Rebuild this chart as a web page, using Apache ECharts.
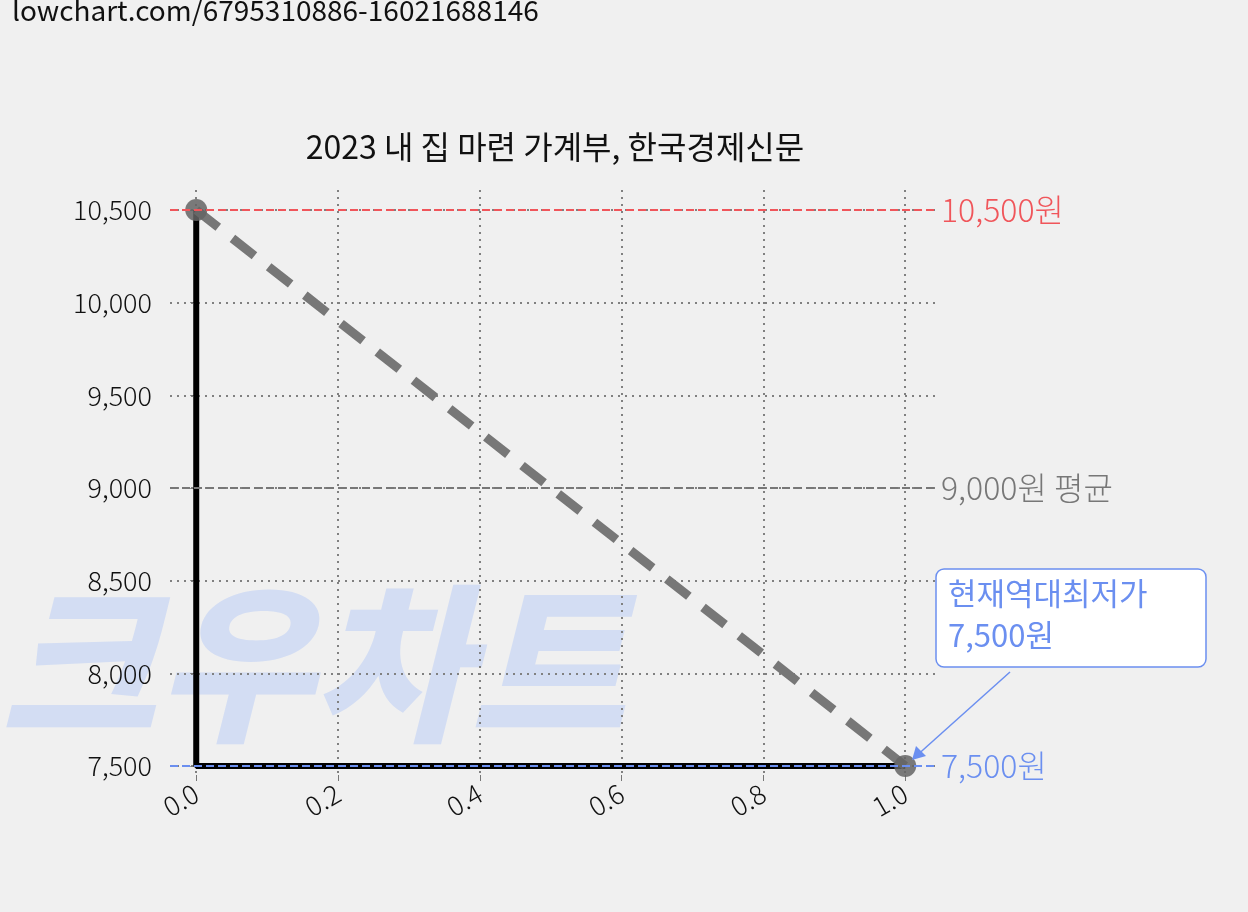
<!DOCTYPE html>
<html><head><meta charset="utf-8">
<script src="https://cdn.jsdelivr.net/npm/echarts@6/dist/echarts.min.js"></script>
<style>html,body{margin:0;background:#f0f0f0}#c{width:1248px;height:912px}</style>
</head><body><div id="c"></div>
<script>
const xTicks=[0,0.2,0.4,0.6,0.8,1.0];
const yTicks=[7500,8000,8500,9000,9500,10000,10500];
const drop=[[0,10500],[0,7500],[1,7500]];
const trend=[[0,10500],[1,7500]];
const refHigh=10500, refAvg=9000, refLow=7500;
const titleText='2023 내 집 마련 가계부, 한국경제신문';
const font='"Noto Sans CJK KR", Roboto, sans-serif';
const chart=echarts.init(document.getElementById('c'));
chart.setOption({
 backgroundColor:'#f0f0f0',
 textStyle:{fontFamily:font},
 graphic:[
  {type:'text',left:12,top:-4,style:{text:'lowchart.com/6795310886-16021688146',fontSize:28,fill:'#111',fontFamily:font}},
  {type:'text',left:0,top:578,z:-1,style:{text:'크우차트',fontSize:170,fontWeight:900,fontStyle:'italic',fill:'#d3ddf3',fontFamily:'"Noto Sans CJK KR"'}},
  {type:'line',shape:{x1:1010,y1:672,x2:914,y2:758},style:{stroke:'#6b8ff0',lineWidth:1.5},z:10},
  {type:'polygon',shape:{points:[[912,760],[916,746],[926,756]]},style:{fill:'#6b8ff0'},z:10},
  {type:'rect',shape:{x:936,y:569,width:270,height:98,r:8},style:{fill:'#fff',stroke:'#6b8ff0',lineWidth:1.5},z:10},
  {type:'text',left:948,top:572,z:11,style:{text:'현재역대최저가\n7,500원',fontSize:31,lineHeight:42,fill:'#6b8ff0',fontFamily:font}}
 ],
 title:{text:titleText,left:550,top:126,textAlign:'center',textStyle:{fontSize:32,fontWeight:'normal',color:'#111'}},
 grid:{left:170,right:313,top:190,bottom:137},
 xAxis:{type:'value',min:-0.037,max:1.042,
  axisLine:{show:false},
  axisTick:{show:true,customValues:xTicks,length:6,lineStyle:{color:'#777'}},
  axisLabel:{customValues:xTicks,rotate:30,fontSize:27,fontWeight:300,color:'#111',margin:16,formatter:v=>v.toFixed(1)},
  splitLine:{show:true,lineStyle:{type:[2,5],color:'#808080',width:2}}},
 yAxis:{type:'value',min:7451,max:10608,
  axisLine:{show:false},
  axisTick:{show:true,customValues:yTicks,length:6,lineStyle:{color:'#777'}},
  axisLabel:{customValues:yTicks,fontSize:27,fontWeight:300,color:'#111',margin:18,formatter:v=>v.toLocaleString('en-US')},
  splitLine:{show:true,lineStyle:{type:[2,5],color:'#808080',width:2}}},
 series:[
  {type:'line',data:trend,symbol:'circle',symbolSize:22,itemStyle:{color:'rgba(100,100,100,0.85)'},
   lineStyle:{color:'#777',width:9,type:[28,18]},z:3,
   markLine:{silent:true,symbol:'none',
    data:[
     {yAxis:refHigh,lineStyle:{color:'#f0555a',type:'dashed',width:2},label:{formatter:'10,500원',color:'#f0555a'}},
     {yAxis:refAvg,lineStyle:{color:'#777',type:'dashed',width:2},label:{formatter:'9,000원 평균',color:'#777'}},
     {yAxis:refLow,lineStyle:{color:'#6b8ff0',type:'dashed',width:2},label:{formatter:'7,500원',color:'#6b8ff0'}}
    ],
    label:{position:'end',fontSize:32,fontWeight:300,distance:6}}},
  {type:'line',data:drop,symbol:'none',lineStyle:{color:'#000',width:6},z:2}
 ]
});
</script></body></html>
